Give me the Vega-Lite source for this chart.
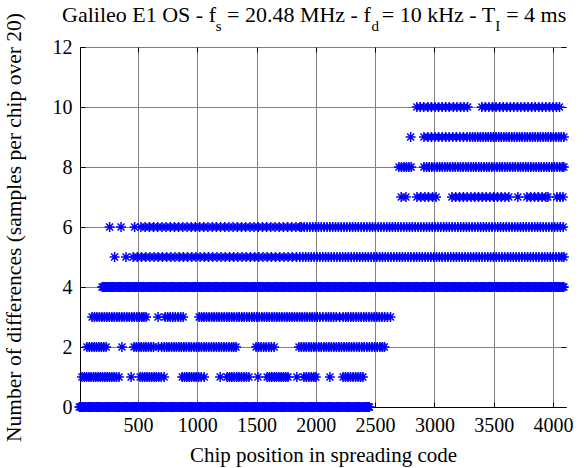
{
  "$schema": "https://vega.github.io/schema/vega-lite/v6.json",
  "width": 486,
  "height": 360,
  "autosize": {"type": "none"},
  "padding": {"left": 80, "top": 47, "right": 20, "bottom": 61},
  "background": "white",
  "config": {"view": {"stroke": null}, "font": "Liberation Serif"},
  "title": {
    "text": "Galileo E1 OS - f\u00a0\u00a0= 20.48 MHz - f\u00a0\u00a0= 10 kHz - T\u00a0\u00a0= 4 ms",
    "subtitle": "\u200b\u00a0\u00a0\u00a0\u00a0\u00a0\u00a0\u00a0\u00a0\u00a0\u00a0\u00a0\u00a0\u00a0\u00a0\u00a0\u00a0\u00a0\u00a0\u00a0\u00a0\u00a0\u00a0\u00a0\u00a0\u00a0\u00a0\u00a0\u00a0\u00a0\u00a0\u00a0\u00a0\u00a0\u00a0\u00a0\u00a0\u00a0\u00a0\u00a0\u00a0\u00a0s\u00a0\u00a0\u00a0\u00a0\u00a0\u00a0\u00a0\u00a0\u00a0\u00a0\u00a0\u00a0\u00a0\u00a0\u00a0\u00a0\u00a0\u00a0\u00a0\u00a0\u00a0\u00a0\u00a0\u00a0\u00a0\u00a0\u00a0\u00a0\u00a0\u00a0\u00a0\u00a0\u00a0\u00a0\u00a0\u00a0\u00a0\u00a0\u00a0\u00a0d\u00a0\u00a0\u00a0\u00a0\u00a0\u00a0\u00a0\u00a0\u00a0\u00a0\u00a0\u00a0\u00a0\u00a0\u00a0\u00a0\u00a0\u00a0\u00a0\u00a0\u00a0\u00a0\u00a0\u00a0\u00a0\u00a0\u00a0\u00a0\u00a0\u00a0\u00a0I",
    "anchor": "start",
    "frame": "group",
    "dx": -18,
    "dy": 30,
    "offset": 8,
    "font": "Liberation Serif",
    "fontSize": 22,
    "fontWeight": "normal",
    "color": "#000000",
    "subtitleFont": "Liberation Serif",
    "subtitleFontSize": 15,
    "subtitleColor": "#000000",
    "subtitlePadding": -8
  },
  "data": {"values": [
{"x":5,"y":0},{"x":24,"y":0},{"x":43,"y":0},{"x":61,"y":0},{"x":82,"y":0},{"x":100,"y":0},{"x":119,"y":0},{"x":139,"y":0},{"x":157,"y":0},{"x":176,"y":0},{"x":196,"y":0},{"x":214,"y":0},{"x":233,"y":0},{"x":252,"y":0},{"x":271,"y":0},{"x":290,"y":0},{"x":309,"y":0},{"x":328,"y":0},{"x":346,"y":0},{"x":366,"y":0},{"x":385,"y":0},{"x":403,"y":0},{"x":423,"y":0},{"x":441,"y":0},{"x":460,"y":0},{"x":480,"y":0},{"x":498,"y":0},{"x":517,"y":0},{"x":536,"y":0},{"x":555,"y":0},{"x":574,"y":0},{"x":593,"y":0},{"x":612,"y":0},{"x":630,"y":0},{"x":650,"y":0},{"x":668,"y":0},{"x":688,"y":0},{"x":706,"y":0},{"x":725,"y":0},{"x":745,"y":0},{"x":763,"y":0},{"x":782,"y":0},{"x":801,"y":0},{"x":820,"y":0},{"x":839,"y":0},{"x":858,"y":0},{"x":877,"y":0},{"x":895,"y":0},{"x":915,"y":0},{"x":933,"y":0},{"x":952,"y":0},{"x":972,"y":0},{"x":990,"y":0},{"x":1009,"y":0},{"x":1028,"y":0},{"x":1047,"y":0},{"x":1066,"y":0},{"x":1085,"y":0},{"x":1104,"y":0},{"x":1122,"y":0},{"x":1142,"y":0},{"x":1160,"y":0},{"x":1180,"y":0},{"x":1198,"y":0},{"x":1217,"y":0},{"x":1236,"y":0},{"x":1255,"y":0},{"x":1274,"y":0},{"x":1293,"y":0},{"x":1312,"y":0},{"x":1330,"y":0},{"x":1350,"y":0},{"x":1368,"y":0},{"x":1388,"y":0},{"x":1406,"y":0},{"x":1425,"y":0},{"x":1444,"y":0},{"x":1463,"y":0},{"x":1482,"y":0},{"x":1501,"y":0},{"x":1520,"y":0},{"x":1538,"y":0},{"x":1558,"y":0},{"x":1576,"y":0},{"x":1596,"y":0},{"x":1614,"y":0},{"x":1633,"y":0},{"x":1652,"y":0},{"x":1671,"y":0},{"x":1690,"y":0},{"x":1709,"y":0},{"x":1728,"y":0},{"x":1746,"y":0},{"x":1766,"y":0},{"x":1784,"y":0},{"x":1804,"y":0},{"x":1822,"y":0},{"x":1841,"y":0},{"x":1860,"y":0},{"x":1879,"y":0},{"x":1898,"y":0},{"x":1917,"y":0},{"x":1936,"y":0},{"x":1954,"y":0},{"x":1974,"y":0},{"x":1992,"y":0},{"x":2012,"y":0},{"x":2030,"y":0},{"x":2049,"y":0},{"x":2068,"y":0},{"x":2087,"y":0},{"x":2106,"y":0},{"x":2125,"y":0},{"x":2144,"y":0},{"x":2162,"y":0},{"x":2182,"y":0},{"x":2200,"y":0},{"x":2220,"y":0},{"x":2238,"y":0},{"x":2257,"y":0},{"x":2276,"y":0},{"x":2295,"y":0},{"x":2314,"y":0},{"x":2333,"y":0},{"x":2352,"y":0},{"x":2370,"y":0},{"x":2390,"y":0},{"x":2408,"y":0},{"x":2428,"y":0},{"x":2446,"y":0},
{"x":14,"y":0},{"x":33,"y":0},{"x":52,"y":0},{"x":71,"y":0},{"x":91,"y":0},{"x":110,"y":0},{"x":129,"y":0},{"x":148,"y":0},{"x":167,"y":0},{"x":186,"y":0},{"x":205,"y":0},{"x":224,"y":0},{"x":243,"y":0},{"x":262,"y":0},{"x":281,"y":0},{"x":300,"y":0},{"x":319,"y":0},{"x":337,"y":0},{"x":356,"y":0},{"x":375,"y":0},{"x":394,"y":0},{"x":413,"y":0},{"x":432,"y":0},{"x":451,"y":0},{"x":470,"y":0},{"x":489,"y":0},{"x":508,"y":0},{"x":527,"y":0},{"x":546,"y":0},{"x":565,"y":0},{"x":584,"y":0},{"x":603,"y":0},{"x":621,"y":0},{"x":640,"y":0},{"x":659,"y":0},{"x":678,"y":0},{"x":697,"y":0},{"x":716,"y":0},{"x":735,"y":0},{"x":754,"y":0},{"x":773,"y":0},{"x":792,"y":0},{"x":811,"y":0},{"x":830,"y":0},{"x":849,"y":0},{"x":868,"y":0},{"x":886,"y":0},{"x":905,"y":0},{"x":924,"y":0},{"x":943,"y":0},{"x":962,"y":0},{"x":981,"y":0},{"x":1000,"y":0},{"x":1019,"y":0},{"x":1038,"y":0},{"x":1057,"y":0},{"x":1076,"y":0},{"x":1095,"y":0},{"x":1113,"y":0},{"x":1132,"y":0},{"x":1151,"y":0},{"x":1170,"y":0},{"x":1189,"y":0},{"x":1208,"y":0},{"x":1227,"y":0},{"x":1246,"y":0},{"x":1265,"y":0},{"x":1284,"y":0},{"x":1303,"y":0},{"x":1321,"y":0},{"x":1340,"y":0},{"x":1359,"y":0},{"x":1378,"y":0},{"x":1397,"y":0},{"x":1416,"y":0},{"x":1435,"y":0},{"x":1454,"y":0},{"x":1473,"y":0},{"x":1492,"y":0},{"x":1511,"y":0},{"x":1529,"y":0},{"x":1548,"y":0},{"x":1567,"y":0},{"x":1586,"y":0},{"x":1605,"y":0},{"x":1624,"y":0},{"x":1643,"y":0},{"x":1662,"y":0},{"x":1681,"y":0},{"x":1700,"y":0},{"x":1718,"y":0},{"x":1737,"y":0},{"x":1756,"y":0},{"x":1775,"y":0},{"x":1794,"y":0},{"x":1813,"y":0},{"x":1832,"y":0},{"x":1851,"y":0},{"x":1870,"y":0},{"x":1889,"y":0},{"x":1908,"y":0},{"x":1926,"y":0},{"x":1945,"y":0},{"x":1964,"y":0},{"x":1983,"y":0},{"x":2002,"y":0},{"x":2021,"y":0},{"x":2040,"y":0},{"x":2059,"y":0},{"x":2078,"y":0},{"x":2097,"y":0},{"x":2116,"y":0},{"x":2135,"y":0},{"x":2153,"y":0},{"x":2172,"y":0},{"x":2191,"y":0},{"x":2210,"y":0},{"x":2229,"y":0},{"x":2248,"y":0},{"x":2267,"y":0},{"x":2286,"y":0},{"x":2305,"y":0},{"x":2324,"y":0},{"x":2342,"y":0},{"x":2361,"y":0},{"x":2380,"y":0},{"x":2399,"y":0},{"x":2418,"y":0},{"x":2437,"y":0},{"x":2452,"y":0},
{"x":28,"y":1},{"x":47,"y":1},{"x":66,"y":1},{"x":86,"y":1},{"x":104,"y":1},{"x":125,"y":1},{"x":143,"y":1},{"x":163,"y":1},{"x":182,"y":1},{"x":201,"y":1},{"x":221,"y":1},{"x":240,"y":1},{"x":259,"y":1},{"x":279,"y":1},{"x":298,"y":1},{"x":318,"y":1},{"x":340,"y":1},{"x":442,"y":1},{"x":518,"y":1},{"x":537,"y":1},{"x":557,"y":1},{"x":576,"y":1},{"x":596,"y":1},{"x":615,"y":1},{"x":636,"y":1},{"x":655,"y":1},{"x":675,"y":1},{"x":696,"y":1},{"x":720,"y":1},{"x":873,"y":1},{"x":893,"y":1},{"x":912,"y":1},{"x":932,"y":1},{"x":951,"y":1},{"x":972,"y":1},{"x":991,"y":1},{"x":1012,"y":1},{"x":1033,"y":1},{"x":1058,"y":1},{"x":1193,"y":1},{"x":1252,"y":1},{"x":1272,"y":1},{"x":1291,"y":1},{"x":1312,"y":1},{"x":1333,"y":1},{"x":1352,"y":1},{"x":1373,"y":1},{"x":1394,"y":1},{"x":1415,"y":1},{"x":1436,"y":1},{"x":1512,"y":1},{"x":1589,"y":1},{"x":1609,"y":1},{"x":1628,"y":1},{"x":1649,"y":1},{"x":1668,"y":1},{"x":1688,"y":1},{"x":1708,"y":1},{"x":1727,"y":1},{"x":1747,"y":1},{"x":1765,"y":1},{"x":1840,"y":1},{"x":1900,"y":1},{"x":1920,"y":1},{"x":1941,"y":1},{"x":1962,"y":1},{"x":1983,"y":1},{"x":2000,"y":1},{"x":2119,"y":1},{"x":2230,"y":1},{"x":2250,"y":1},{"x":2271,"y":1},{"x":2292,"y":1},{"x":2314,"y":1},{"x":2335,"y":1},{"x":2356,"y":1},{"x":2377,"y":1},{"x":2397,"y":1},
{"x":70,"y":2},{"x":90,"y":2},{"x":110,"y":2},{"x":131,"y":2},{"x":150,"y":2},{"x":171,"y":2},{"x":191,"y":2},{"x":211,"y":2},{"x":231,"y":2},{"x":365,"y":2},{"x":467,"y":2},{"x":487,"y":2},{"x":507,"y":2},{"x":527,"y":2},{"x":548,"y":2},{"x":568,"y":2},{"x":588,"y":2},{"x":610,"y":2},{"x":630,"y":2},{"x":672,"y":2},{"x":700,"y":2},{"x":722,"y":2},{"x":742,"y":2},{"x":762,"y":2},{"x":783,"y":2},{"x":804,"y":2},{"x":824,"y":2},{"x":846,"y":2},{"x":866,"y":2},{"x":887,"y":2},{"x":908,"y":2},{"x":930,"y":2},{"x":950,"y":2},{"x":972,"y":2},{"x":993,"y":2},{"x":1014,"y":2},{"x":1035,"y":2},{"x":1056,"y":2},{"x":1077,"y":2},{"x":1098,"y":2},{"x":1120,"y":2},{"x":1140,"y":2},{"x":1162,"y":2},{"x":1183,"y":2},{"x":1204,"y":2},{"x":1225,"y":2},{"x":1246,"y":2},{"x":1267,"y":2},{"x":1290,"y":2},{"x":1308,"y":2},{"x":1327,"y":2},{"x":1496,"y":2},{"x":1517,"y":2},{"x":1538,"y":2},{"x":1560,"y":2},{"x":1581,"y":2},{"x":1603,"y":2},{"x":1625,"y":2},{"x":1648,"y":2},{"x":1858,"y":2},{"x":1878,"y":2},{"x":1899,"y":2},{"x":1920,"y":2},{"x":1941,"y":2},{"x":1962,"y":2},{"x":1983,"y":2},{"x":2004,"y":2},{"x":2025,"y":2},{"x":2046,"y":2},{"x":2068,"y":2},{"x":2089,"y":2},{"x":2110,"y":2},{"x":2131,"y":2},{"x":2152,"y":2},{"x":2174,"y":2},{"x":2195,"y":2},{"x":2216,"y":2},{"x":2238,"y":2},{"x":2259,"y":2},{"x":2280,"y":2},{"x":2301,"y":2},{"x":2322,"y":2},{"x":2344,"y":2},{"x":2366,"y":2},{"x":2387,"y":2},{"x":2408,"y":2},{"x":2430,"y":2},{"x":2452,"y":2},{"x":2473,"y":2},{"x":2495,"y":2},{"x":2518,"y":2},{"x":2540,"y":2},{"x":2560,"y":2},{"x":2578,"y":2},
{"x":113,"y":3},{"x":133,"y":3},{"x":154,"y":3},{"x":175,"y":3},{"x":196,"y":3},{"x":217,"y":3},{"x":238,"y":3},{"x":259,"y":3},{"x":280,"y":3},{"x":301,"y":3},{"x":322,"y":3},{"x":343,"y":3},{"x":364,"y":3},{"x":385,"y":3},{"x":406,"y":3},{"x":427,"y":3},{"x":448,"y":3},{"x":469,"y":3},{"x":490,"y":3},{"x":511,"y":3},{"x":532,"y":3},{"x":550,"y":3},{"x":568,"y":3},{"x":669,"y":3},{"x":729,"y":3},{"x":750,"y":3},{"x":772,"y":3},{"x":793,"y":3},{"x":815,"y":3},{"x":838,"y":3},{"x":860,"y":3},{"x":881,"y":3},{"x":1016,"y":3},{"x":1036,"y":3},{"x":1057,"y":3},{"x":1078,"y":3},{"x":1100,"y":3},{"x":1121,"y":3},{"x":1142,"y":3},{"x":1163,"y":3},{"x":1184,"y":3},{"x":1205,"y":3},{"x":1227,"y":3},{"x":1248,"y":3},{"x":1269,"y":3},{"x":1290,"y":3},{"x":1311,"y":3},{"x":1333,"y":3},{"x":1354,"y":3},{"x":1375,"y":3},{"x":1396,"y":3},{"x":1417,"y":3},{"x":1439,"y":3},{"x":1460,"y":3},{"x":1481,"y":3},{"x":1502,"y":3},{"x":1523,"y":3},{"x":1545,"y":3},{"x":1566,"y":3},{"x":1587,"y":3},{"x":1608,"y":3},{"x":1630,"y":3},{"x":1651,"y":3},{"x":1672,"y":3},{"x":1693,"y":3},{"x":1714,"y":3},{"x":1736,"y":3},{"x":1757,"y":3},{"x":1778,"y":3},{"x":1799,"y":3},{"x":1820,"y":3},{"x":1842,"y":3},{"x":1863,"y":3},{"x":1884,"y":3},{"x":1905,"y":3},{"x":1926,"y":3},{"x":1948,"y":3},{"x":1969,"y":3},{"x":1990,"y":3},{"x":2012,"y":3},{"x":2034,"y":3},{"x":2060,"y":3},{"x":2085,"y":3},{"x":2107,"y":3},{"x":2128,"y":3},{"x":2150,"y":3},{"x":2172,"y":3},{"x":2200,"y":3},{"x":2230,"y":3},{"x":2252,"y":3},{"x":2273,"y":3},{"x":2295,"y":3},{"x":2316,"y":3},{"x":2338,"y":3},{"x":2360,"y":3},{"x":2382,"y":3},{"x":2404,"y":3},{"x":2426,"y":3},{"x":2448,"y":3},{"x":2470,"y":3},{"x":2492,"y":3},{"x":2514,"y":3},{"x":2536,"y":3},{"x":2558,"y":3},{"x":2580,"y":3},{"x":2604,"y":3},{"x":2630,"y":3},
{"x":197,"y":4},{"x":217,"y":4},{"x":236,"y":4},{"x":256,"y":4},{"x":275,"y":4},{"x":295,"y":4},{"x":314,"y":4},{"x":334,"y":4},{"x":353,"y":4},{"x":373,"y":4},{"x":392,"y":4},{"x":412,"y":4},{"x":431,"y":4},{"x":451,"y":4},{"x":470,"y":4},{"x":490,"y":4},{"x":509,"y":4},{"x":529,"y":4},{"x":548,"y":4},{"x":568,"y":4},{"x":587,"y":4},{"x":607,"y":4},{"x":626,"y":4},{"x":646,"y":4},{"x":665,"y":4},{"x":685,"y":4},{"x":704,"y":4},{"x":724,"y":4},{"x":743,"y":4},{"x":763,"y":4},{"x":782,"y":4},{"x":802,"y":4},{"x":821,"y":4},{"x":841,"y":4},{"x":860,"y":4},{"x":880,"y":4},{"x":899,"y":4},{"x":919,"y":4},{"x":938,"y":4},{"x":958,"y":4},{"x":977,"y":4},{"x":997,"y":4},{"x":1016,"y":4},{"x":1036,"y":4},{"x":1055,"y":4},{"x":1075,"y":4},{"x":1094,"y":4},{"x":1114,"y":4},{"x":1133,"y":4},{"x":1153,"y":4},{"x":1172,"y":4},{"x":1192,"y":4},{"x":1211,"y":4},{"x":1231,"y":4},{"x":1250,"y":4},{"x":1270,"y":4},{"x":1289,"y":4},{"x":1309,"y":4},{"x":1328,"y":4},{"x":1348,"y":4},{"x":1367,"y":4},{"x":1387,"y":4},{"x":1406,"y":4},{"x":1426,"y":4},{"x":1445,"y":4},{"x":1465,"y":4},{"x":1484,"y":4},{"x":1504,"y":4},{"x":1523,"y":4},{"x":1543,"y":4},{"x":1562,"y":4},{"x":1582,"y":4},{"x":1601,"y":4},{"x":1621,"y":4},{"x":1640,"y":4},{"x":1660,"y":4},{"x":1679,"y":4},{"x":1699,"y":4},{"x":1718,"y":4},{"x":1738,"y":4},{"x":1757,"y":4},{"x":1777,"y":4},{"x":1796,"y":4},{"x":1816,"y":4},{"x":1835,"y":4},{"x":1855,"y":4},{"x":1874,"y":4},{"x":1894,"y":4},{"x":1913,"y":4},{"x":1933,"y":4},{"x":1952,"y":4},{"x":1972,"y":4},{"x":1991,"y":4},{"x":2011,"y":4},{"x":2030,"y":4},{"x":2050,"y":4},{"x":2069,"y":4},{"x":2089,"y":4},{"x":2108,"y":4},{"x":2128,"y":4},{"x":2147,"y":4},{"x":2167,"y":4},{"x":2186,"y":4},{"x":2206,"y":4},{"x":2225,"y":4},{"x":2245,"y":4},{"x":2264,"y":4},{"x":2284,"y":4},{"x":2303,"y":4},{"x":2323,"y":4},{"x":2342,"y":4},{"x":2362,"y":4},{"x":2381,"y":4},{"x":2401,"y":4},{"x":2420,"y":4},{"x":2440,"y":4},{"x":2459,"y":4},{"x":2479,"y":4},{"x":2498,"y":4},{"x":2518,"y":4},{"x":2537,"y":4},{"x":2557,"y":4},{"x":2576,"y":4},{"x":2596,"y":4},{"x":2615,"y":4},{"x":2635,"y":4},{"x":2654,"y":4},{"x":2674,"y":4},{"x":2693,"y":4},{"x":2713,"y":4},{"x":2732,"y":4},{"x":2752,"y":4},{"x":2771,"y":4},{"x":2791,"y":4},{"x":2810,"y":4},{"x":2830,"y":4},{"x":2849,"y":4},{"x":2869,"y":4},{"x":2888,"y":4},{"x":2908,"y":4},{"x":2927,"y":4},{"x":2947,"y":4},{"x":2966,"y":4},{"x":2986,"y":4},{"x":3005,"y":4},{"x":3025,"y":4},{"x":3044,"y":4},{"x":3064,"y":4},{"x":3083,"y":4},{"x":3103,"y":4},{"x":3122,"y":4},{"x":3142,"y":4},{"x":3161,"y":4},{"x":3181,"y":4},{"x":3200,"y":4},{"x":3220,"y":4},{"x":3239,"y":4},{"x":3259,"y":4},{"x":3278,"y":4},{"x":3298,"y":4},{"x":3317,"y":4},{"x":3337,"y":4},{"x":3356,"y":4},{"x":3376,"y":4},{"x":3395,"y":4},{"x":3415,"y":4},{"x":3434,"y":4},{"x":3454,"y":4},{"x":3473,"y":4},{"x":3493,"y":4},{"x":3512,"y":4},{"x":3532,"y":4},{"x":3551,"y":4},{"x":3571,"y":4},{"x":3590,"y":4},{"x":3610,"y":4},{"x":3629,"y":4},{"x":3649,"y":4},{"x":3668,"y":4},{"x":3688,"y":4},{"x":3707,"y":4},{"x":3727,"y":4},{"x":3746,"y":4},{"x":3766,"y":4},{"x":3785,"y":4},{"x":3805,"y":4},{"x":3824,"y":4},{"x":3844,"y":4},{"x":3863,"y":4},{"x":3883,"y":4},{"x":3902,"y":4},{"x":3922,"y":4},{"x":3941,"y":4},{"x":3961,"y":4},{"x":3980,"y":4},{"x":4000,"y":4},{"x":4019,"y":4},{"x":4039,"y":4},{"x":4058,"y":4},{"x":4078,"y":4},{"x":4092,"y":4},
{"x":207,"y":4},{"x":227,"y":4},{"x":246,"y":4},{"x":266,"y":4},{"x":285,"y":4},{"x":305,"y":4},{"x":324,"y":4},{"x":344,"y":4},{"x":363,"y":4},{"x":383,"y":4},{"x":402,"y":4},{"x":422,"y":4},{"x":441,"y":4},{"x":461,"y":4},{"x":480,"y":4},{"x":500,"y":4},{"x":519,"y":4},{"x":539,"y":4},{"x":558,"y":4},{"x":578,"y":4},{"x":597,"y":4},{"x":617,"y":4},{"x":636,"y":4},{"x":656,"y":4},{"x":675,"y":4},{"x":695,"y":4},{"x":714,"y":4},{"x":734,"y":4},{"x":753,"y":4},{"x":773,"y":4},{"x":792,"y":4},{"x":812,"y":4},{"x":831,"y":4},{"x":851,"y":4},{"x":870,"y":4},{"x":890,"y":4},{"x":909,"y":4},{"x":929,"y":4},{"x":948,"y":4},{"x":968,"y":4},{"x":987,"y":4},{"x":1007,"y":4},{"x":1026,"y":4},{"x":1046,"y":4},{"x":1065,"y":4},{"x":1085,"y":4},{"x":1104,"y":4},{"x":1124,"y":4},{"x":1143,"y":4},{"x":1163,"y":4},{"x":1182,"y":4},{"x":1202,"y":4},{"x":1221,"y":4},{"x":1241,"y":4},{"x":1260,"y":4},{"x":1280,"y":4},{"x":1299,"y":4},{"x":1319,"y":4},{"x":1338,"y":4},{"x":1358,"y":4},{"x":1377,"y":4},{"x":1397,"y":4},{"x":1416,"y":4},{"x":1436,"y":4},{"x":1455,"y":4},{"x":1475,"y":4},{"x":1494,"y":4},{"x":1514,"y":4},{"x":1533,"y":4},{"x":1553,"y":4},{"x":1572,"y":4},{"x":1592,"y":4},{"x":1611,"y":4},{"x":1631,"y":4},{"x":1650,"y":4},{"x":1670,"y":4},{"x":1689,"y":4},{"x":1709,"y":4},{"x":1728,"y":4},{"x":1748,"y":4},{"x":1767,"y":4},{"x":1787,"y":4},{"x":1806,"y":4},{"x":1826,"y":4},{"x":1845,"y":4},{"x":1865,"y":4},{"x":1884,"y":4},{"x":1904,"y":4},{"x":1923,"y":4},{"x":1943,"y":4},{"x":1962,"y":4},{"x":1982,"y":4},{"x":2001,"y":4},{"x":2021,"y":4},{"x":2040,"y":4},{"x":2060,"y":4},{"x":2079,"y":4},{"x":2099,"y":4},{"x":2118,"y":4},{"x":2138,"y":4},{"x":2157,"y":4},{"x":2177,"y":4},{"x":2196,"y":4},{"x":2216,"y":4},{"x":2235,"y":4},{"x":2255,"y":4},{"x":2274,"y":4},{"x":2294,"y":4},{"x":2313,"y":4},{"x":2333,"y":4},{"x":2352,"y":4},{"x":2372,"y":4},{"x":2391,"y":4},{"x":2411,"y":4},{"x":2430,"y":4},{"x":2450,"y":4},{"x":2469,"y":4},{"x":2489,"y":4},{"x":2508,"y":4},{"x":2528,"y":4},{"x":2547,"y":4},{"x":2567,"y":4},{"x":2586,"y":4},{"x":2606,"y":4},{"x":2625,"y":4},{"x":2645,"y":4},{"x":2664,"y":4},{"x":2684,"y":4},{"x":2703,"y":4},{"x":2723,"y":4},{"x":2742,"y":4},{"x":2762,"y":4},{"x":2781,"y":4},{"x":2801,"y":4},{"x":2820,"y":4},{"x":2840,"y":4},{"x":2859,"y":4},{"x":2879,"y":4},{"x":2898,"y":4},{"x":2918,"y":4},{"x":2937,"y":4},{"x":2957,"y":4},{"x":2976,"y":4},{"x":2996,"y":4},{"x":3015,"y":4},{"x":3035,"y":4},{"x":3054,"y":4},{"x":3074,"y":4},{"x":3093,"y":4},{"x":3113,"y":4},{"x":3132,"y":4},{"x":3152,"y":4},{"x":3171,"y":4},{"x":3191,"y":4},{"x":3210,"y":4},{"x":3230,"y":4},{"x":3249,"y":4},{"x":3269,"y":4},{"x":3288,"y":4},{"x":3308,"y":4},{"x":3327,"y":4},{"x":3347,"y":4},{"x":3366,"y":4},{"x":3386,"y":4},{"x":3405,"y":4},{"x":3425,"y":4},{"x":3444,"y":4},{"x":3464,"y":4},{"x":3483,"y":4},{"x":3503,"y":4},{"x":3522,"y":4},{"x":3542,"y":4},{"x":3561,"y":4},{"x":3581,"y":4},{"x":3600,"y":4},{"x":3620,"y":4},{"x":3639,"y":4},{"x":3659,"y":4},{"x":3678,"y":4},{"x":3698,"y":4},{"x":3717,"y":4},{"x":3737,"y":4},{"x":3756,"y":4},{"x":3776,"y":4},{"x":3795,"y":4},{"x":3815,"y":4},{"x":3834,"y":4},{"x":3854,"y":4},{"x":3873,"y":4},{"x":3893,"y":4},{"x":3912,"y":4},{"x":3932,"y":4},{"x":3951,"y":4},{"x":3971,"y":4},{"x":3990,"y":4},{"x":4010,"y":4},{"x":4029,"y":4},{"x":4049,"y":4},{"x":4068,"y":4},{"x":4085,"y":4},
{"x":303,"y":5},{"x":399,"y":5},{"x":459,"y":5},{"x":494,"y":5},{"x":530,"y":5},{"x":565,"y":5},{"x":600,"y":5},{"x":636,"y":5},{"x":671,"y":5},{"x":706,"y":5},{"x":742,"y":5},{"x":777,"y":5},{"x":812,"y":5},{"x":848,"y":5},{"x":883,"y":5},{"x":918,"y":5},{"x":954,"y":5},{"x":989,"y":5},{"x":1024,"y":5},{"x":1060,"y":5},{"x":1095,"y":5},{"x":1130,"y":5},{"x":1166,"y":5},{"x":1201,"y":5},{"x":1236,"y":5},{"x":1272,"y":5},{"x":1307,"y":5},{"x":1342,"y":5},{"x":1378,"y":5},{"x":1413,"y":5},{"x":1448,"y":5},{"x":1484,"y":5},{"x":1519,"y":5},{"x":1554,"y":5},{"x":1590,"y":5},{"x":1625,"y":5},{"x":1660,"y":5},{"x":1696,"y":5},{"x":1731,"y":5},{"x":1766,"y":5},{"x":1802,"y":5},{"x":1837,"y":5},{"x":1866,"y":5},{"x":1890,"y":5},{"x":1914,"y":5},{"x":1938,"y":5},{"x":1962,"y":5},{"x":1986,"y":5},{"x":2010,"y":5},{"x":2034,"y":5},{"x":2058,"y":5},{"x":2082,"y":5},{"x":2106,"y":5},{"x":2130,"y":5},{"x":2154,"y":5},{"x":2178,"y":5},{"x":2202,"y":5},{"x":2226,"y":5},{"x":2250,"y":5},{"x":2274,"y":5},{"x":2298,"y":5},{"x":2322,"y":5},{"x":2346,"y":5},{"x":2370,"y":5},{"x":2394,"y":5},{"x":2418,"y":5},{"x":2442,"y":5},{"x":2466,"y":5},{"x":2490,"y":5},{"x":2514,"y":5},{"x":2538,"y":5},{"x":2562,"y":5},{"x":2586,"y":5},{"x":2610,"y":5},{"x":2634,"y":5},{"x":2658,"y":5},{"x":2682,"y":5},{"x":2706,"y":5},{"x":2730,"y":5},{"x":2754,"y":5},{"x":2778,"y":5},{"x":2802,"y":5},{"x":2826,"y":5},{"x":2850,"y":5},{"x":2874,"y":5},{"x":2898,"y":5},{"x":2922,"y":5},{"x":2946,"y":5},{"x":2970,"y":5},{"x":2994,"y":5},{"x":3018,"y":5},{"x":3042,"y":5},{"x":3066,"y":5},{"x":3090,"y":5},{"x":3114,"y":5},{"x":3138,"y":5},{"x":3162,"y":5},{"x":3186,"y":5},{"x":3210,"y":5},{"x":3234,"y":5},{"x":3258,"y":5},{"x":3282,"y":5},{"x":3306,"y":5},{"x":3330,"y":5},{"x":3354,"y":5},{"x":3378,"y":5},{"x":3402,"y":5},{"x":3426,"y":5},{"x":3450,"y":5},{"x":3474,"y":5},{"x":3498,"y":5},{"x":3522,"y":5},{"x":3546,"y":5},{"x":3570,"y":5},{"x":3594,"y":5},{"x":3618,"y":5},{"x":3642,"y":5},{"x":3666,"y":5},{"x":3690,"y":5},{"x":3714,"y":5},{"x":3738,"y":5},{"x":3762,"y":5},{"x":3786,"y":5},{"x":3810,"y":5},{"x":3834,"y":5},{"x":3858,"y":5},{"x":3882,"y":5},{"x":3906,"y":5},{"x":3930,"y":5},{"x":3954,"y":5},{"x":3978,"y":5},{"x":4002,"y":5},{"x":4026,"y":5},{"x":4050,"y":5},{"x":4074,"y":5},{"x":4092,"y":5},
{"x":261,"y":6},{"x":357,"y":6},{"x":472,"y":6},{"x":525,"y":6},{"x":560,"y":6},{"x":596,"y":6},{"x":631,"y":6},{"x":666,"y":6},{"x":702,"y":6},{"x":737,"y":6},{"x":772,"y":6},{"x":808,"y":6},{"x":843,"y":6},{"x":878,"y":6},{"x":914,"y":6},{"x":949,"y":6},{"x":984,"y":6},{"x":1020,"y":6},{"x":1055,"y":6},{"x":1090,"y":6},{"x":1126,"y":6},{"x":1161,"y":6},{"x":1196,"y":6},{"x":1232,"y":6},{"x":1267,"y":6},{"x":1302,"y":6},{"x":1338,"y":6},{"x":1373,"y":6},{"x":1408,"y":6},{"x":1444,"y":6},{"x":1479,"y":6},{"x":1514,"y":6},{"x":1550,"y":6},{"x":1585,"y":6},{"x":1620,"y":6},{"x":1656,"y":6},{"x":1691,"y":6},{"x":1726,"y":6},{"x":1762,"y":6},{"x":1797,"y":6},{"x":1832,"y":6},{"x":1866,"y":6},{"x":1878,"y":6},{"x":1902,"y":6},{"x":1926,"y":6},{"x":1950,"y":6},{"x":1974,"y":6},{"x":1998,"y":6},{"x":2022,"y":6},{"x":2046,"y":6},{"x":2070,"y":6},{"x":2094,"y":6},{"x":2118,"y":6},{"x":2142,"y":6},{"x":2166,"y":6},{"x":2190,"y":6},{"x":2214,"y":6},{"x":2238,"y":6},{"x":2262,"y":6},{"x":2286,"y":6},{"x":2310,"y":6},{"x":2334,"y":6},{"x":2358,"y":6},{"x":2382,"y":6},{"x":2406,"y":6},{"x":2430,"y":6},{"x":2454,"y":6},{"x":2478,"y":6},{"x":2502,"y":6},{"x":2526,"y":6},{"x":2550,"y":6},{"x":2574,"y":6},{"x":2598,"y":6},{"x":2622,"y":6},{"x":2646,"y":6},{"x":2670,"y":6},{"x":2694,"y":6},{"x":2718,"y":6},{"x":2742,"y":6},{"x":2766,"y":6},{"x":2790,"y":6},{"x":2814,"y":6},{"x":2838,"y":6},{"x":2862,"y":6},{"x":2886,"y":6},{"x":2910,"y":6},{"x":2934,"y":6},{"x":2958,"y":6},{"x":2982,"y":6},{"x":3006,"y":6},{"x":3030,"y":6},{"x":3054,"y":6},{"x":3078,"y":6},{"x":3102,"y":6},{"x":3126,"y":6},{"x":3150,"y":6},{"x":3174,"y":6},{"x":3198,"y":6},{"x":3222,"y":6},{"x":3246,"y":6},{"x":3270,"y":6},{"x":3294,"y":6},{"x":3318,"y":6},{"x":3342,"y":6},{"x":3366,"y":6},{"x":3390,"y":6},{"x":3414,"y":6},{"x":3438,"y":6},{"x":3462,"y":6},{"x":3486,"y":6},{"x":3510,"y":6},{"x":3534,"y":6},{"x":3558,"y":6},{"x":3582,"y":6},{"x":3606,"y":6},{"x":3630,"y":6},{"x":3654,"y":6},{"x":3678,"y":6},{"x":3702,"y":6},{"x":3726,"y":6},{"x":3750,"y":6},{"x":3774,"y":6},{"x":3798,"y":6},{"x":3822,"y":6},{"x":3846,"y":6},{"x":3870,"y":6},{"x":3894,"y":6},{"x":3918,"y":6},{"x":3942,"y":6},{"x":3966,"y":6},{"x":3990,"y":6},{"x":4014,"y":6},{"x":4038,"y":6},{"x":4062,"y":6},{"x":4086,"y":6},
{"x":2720,"y":7},{"x":2760,"y":7},{"x":2853,"y":7},{"x":2885,"y":7},{"x":2920,"y":7},{"x":2950,"y":7},{"x":2985,"y":7},{"x":3014,"y":7},{"x":3148,"y":7},{"x":3180,"y":7},{"x":3212,"y":7},{"x":3244,"y":7},{"x":3276,"y":7},{"x":3308,"y":7},{"x":3340,"y":7},{"x":3372,"y":7},{"x":3404,"y":7},{"x":3436,"y":7},{"x":3468,"y":7},{"x":3500,"y":7},{"x":3532,"y":7},{"x":3564,"y":7},{"x":3596,"y":7},{"x":3628,"y":7},{"x":3704,"y":7},{"x":3780,"y":7},{"x":3812,"y":7},{"x":3844,"y":7},{"x":3876,"y":7},{"x":3908,"y":7},{"x":3940,"y":7},{"x":3957,"y":7},{"x":4033,"y":7},{"x":4060,"y":7},{"x":4084,"y":7},
{"x":2701,"y":8},{"x":2722,"y":8},{"x":2743,"y":8},{"x":2764,"y":8},{"x":2785,"y":8},{"x":2804,"y":8},{"x":2912,"y":8},{"x":2934,"y":8},{"x":2956,"y":8},{"x":2978,"y":8},{"x":3000,"y":8},{"x":3022,"y":8},{"x":3044,"y":8},{"x":3066,"y":8},{"x":3088,"y":8},{"x":3110,"y":8},{"x":3132,"y":8},{"x":3154,"y":8},{"x":3176,"y":8},{"x":3198,"y":8},{"x":3220,"y":8},{"x":3242,"y":8},{"x":3264,"y":8},{"x":3286,"y":8},{"x":3308,"y":8},{"x":3330,"y":8},{"x":3352,"y":8},{"x":3374,"y":8},{"x":3396,"y":8},{"x":3418,"y":8},{"x":3440,"y":8},{"x":3462,"y":8},{"x":3484,"y":8},{"x":3506,"y":8},{"x":3528,"y":8},{"x":3550,"y":8},{"x":3572,"y":8},{"x":3594,"y":8},{"x":3616,"y":8},{"x":3638,"y":8},{"x":3660,"y":8},{"x":3682,"y":8},{"x":3704,"y":8},{"x":3726,"y":8},{"x":3748,"y":8},{"x":3770,"y":8},{"x":3792,"y":8},{"x":3814,"y":8},{"x":3836,"y":8},{"x":3858,"y":8},{"x":3880,"y":8},{"x":3902,"y":8},{"x":3924,"y":8},{"x":3946,"y":8},{"x":3968,"y":8},{"x":3990,"y":8},{"x":4012,"y":8},{"x":4034,"y":8},{"x":4056,"y":8},{"x":4078,"y":8},{"x":4092,"y":8},
{"x":2800,"y":9},{"x":2912,"y":9},{"x":2945,"y":9},{"x":2975,"y":9},{"x":3005,"y":9},{"x":3035,"y":9},{"x":3065,"y":9},{"x":3095,"y":9},{"x":3125,"y":9},{"x":3155,"y":9},{"x":3185,"y":9},{"x":3215,"y":9},{"x":3245,"y":9},{"x":3275,"y":9},{"x":3300,"y":9},{"x":3322,"y":9},{"x":3344,"y":9},{"x":3366,"y":9},{"x":3388,"y":9},{"x":3410,"y":9},{"x":3432,"y":9},{"x":3454,"y":9},{"x":3476,"y":9},{"x":3498,"y":9},{"x":3520,"y":9},{"x":3542,"y":9},{"x":3564,"y":9},{"x":3586,"y":9},{"x":3608,"y":9},{"x":3630,"y":9},{"x":3652,"y":9},{"x":3674,"y":9},{"x":3696,"y":9},{"x":3718,"y":9},{"x":3740,"y":9},{"x":3762,"y":9},{"x":3784,"y":9},{"x":3806,"y":9},{"x":3828,"y":9},{"x":3850,"y":9},{"x":3872,"y":9},{"x":3894,"y":9},{"x":3916,"y":9},{"x":3938,"y":9},{"x":3960,"y":9},{"x":3982,"y":9},{"x":4004,"y":9},{"x":4026,"y":9},{"x":4048,"y":9},{"x":4070,"y":9},{"x":4092,"y":9},
{"x":2852,"y":10},{"x":2880,"y":10},{"x":2910,"y":10},{"x":2945,"y":10},{"x":2975,"y":10},{"x":3005,"y":10},{"x":3035,"y":10},{"x":3065,"y":10},{"x":3095,"y":10},{"x":3125,"y":10},{"x":3160,"y":10},{"x":3190,"y":10},{"x":3220,"y":10},{"x":3250,"y":10},{"x":3280,"y":10},{"x":3400,"y":10},{"x":3430,"y":10},{"x":3460,"y":10},{"x":3490,"y":10},{"x":3520,"y":10},{"x":3550,"y":10},{"x":3580,"y":10},{"x":3610,"y":10},{"x":3640,"y":10},{"x":3670,"y":10},{"x":3700,"y":10},{"x":3730,"y":10},{"x":3760,"y":10},{"x":3790,"y":10},{"x":3820,"y":10},{"x":3850,"y":10},{"x":3880,"y":10},{"x":3910,"y":10},{"x":3940,"y":10},{"x":3970,"y":10},{"x":4000,"y":10},{"x":4030,"y":10},{"x":4055,"y":10}
  ]},
  "layer": [
    {
      "mark": {"type": "point", "shape": "M-1,0L1,0M0,-1L0,1M-0.7,-0.7L0.7,0.7M-0.7,0.7L0.7,-0.7", "filled": false, "color": "#0000ff", "size": 100, "strokeWidth": 1.5, "opacity": 1, "clip": false},
      "encoding": {
        "x": {"field": "x", "type": "quantitative", "scale": {"domain": [11, 4110], "nice": false, "zero": false},
          "axis": {"values": [500, 1000, 1500, 2000, 2500, 3000, 3500, 4000], "format": "d", "grid": true, "gridColor": "#808080", "gridWidth": 1, "gridOpacity": 1, "domainColor": "#000000", "domainWidth": 1, "tickColor": "#000000", "tickSize": -5, "tickWidth": 1, "labelPadding": 13, "labelFont": "Liberation Serif", "labelFontSize": 20, "labelColor": "#000000", "labelFlush": false, "labelOverlap": false, "title": "Chip position in spreading code", "titleFont": "Liberation Serif", "titleFontSize": 21, "titleFontWeight": "normal", "titleColor": "#000000", "titlePadding": 9}},
        "y": {"field": "y", "type": "quantitative", "scale": {"domain": [0, 12], "nice": false, "zero": false},
          "axis": {"values": [0, 2, 4, 6, 8, 10, 12], "format": "d", "grid": true, "gridColor": "#808080", "gridWidth": 1, "gridOpacity": 1, "domainColor": "#000000", "domainWidth": 1, "tickColor": "#000000", "tickSize": -5, "tickWidth": 1, "labelPadding": 13, "labelFont": "Liberation Serif", "labelFontSize": 20, "labelColor": "#000000", "labelFlush": false, "labelOverlap": false, "title": "Number of differences (samples per chip over 20)", "titleFont": "Liberation Serif", "titleFontSize": 21.5, "titleFontWeight": "normal", "titleColor": "#000000", "titlePadding": 27}}
      }
    },
    {
      "mark": {"type": "point", "opacity": 0},
      "encoding": {
        "x": {"field": "x", "type": "quantitative", "scale": {"domain": [11, 4110], "nice": false, "zero": false},
          "axis": {"orient": "top", "values": [500, 1000, 1500, 2000, 2500, 3000, 3500, 4000], "labels": false, "domain": false, "grid": false, "tickColor": "#000000", "tickSize": -5, "tickWidth": 1, "title": null}},
        "y": {"field": "y", "type": "quantitative", "scale": {"domain": [0, 12], "nice": false, "zero": false},
          "axis": {"orient": "right", "values": [0, 2, 4, 6, 8, 10, 12], "labels": false, "domain": false, "grid": false, "tickColor": "#000000", "tickSize": -5, "tickWidth": 1, "title": null}}
      }
    }
  ],
  "resolve": {"axis": {"x": "independent", "y": "independent"}}
}
